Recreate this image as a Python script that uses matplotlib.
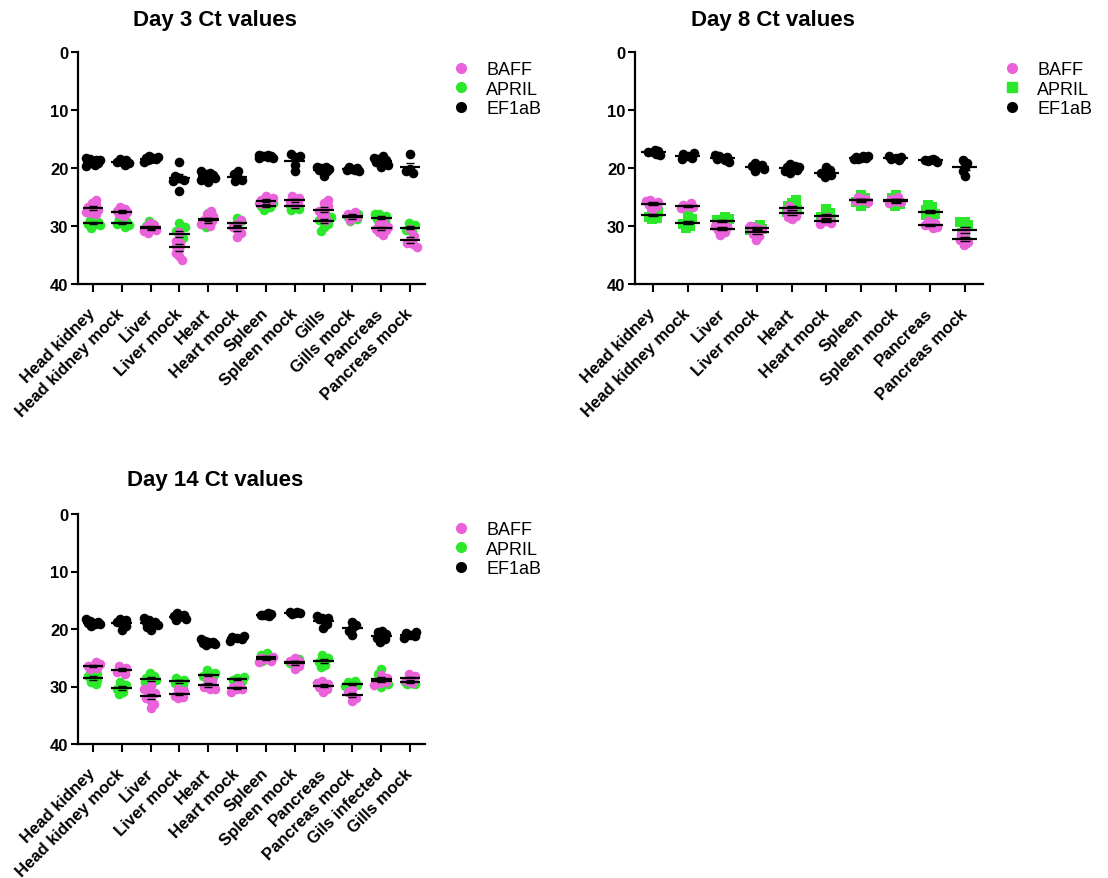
import matplotlib
matplotlib.use("Agg")
import matplotlib.pyplot as plt
import numpy as np
from matplotlib.lines import Line2D

plt.rcParams["font.family"] = ["Liberation Sans", "DejaVu Sans"]

BAFF_COLOR = "#EA62DA"
APRIL_COLOR = "#2BE82B"

# ---- Day 3 ----
day3_tissues = ["Head kidney", "Head kidney mock", "Liver", "Liver mock", "Heart",
                "Heart mock", "Spleen", "Spleen mock", "Gills", "Gills mock",
                "Pancreas", "Pancreas mock"]
day3_baff = [
    [25.5, 26.0, 26.4, 26.8, 27.0, 27.2, 27.5, 27.9, 27.8],
    [26.8, 27.1, 27.4, 27.6, 27.9, 28.2, 27.5],
    [29.5, 29.9, 30.2, 30.5, 30.8, 31.2, 30.7],
    [31.0, 32.5, 33.4, 34.0, 34.6, 35.2, 35.9, 33.0],
    [27.4, 27.9, 28.3, 28.7, 29.0, 29.3, 29.6, 30.0, 29.2],
    [29.0, 29.6, 30.1, 30.6, 31.2, 31.9],
    [24.8, 25.2, 25.5, 25.7, 25.9, 26.2, 26.0],
    [24.8, 25.2, 25.5, 25.8, 26.1, 26.2],
    [25.5, 26.0, 26.6, 27.0, 27.4, 27.8, 28.4, 28.9],
    [27.5, 27.9, 28.2, 28.5, 28.9],
    [29.2, 29.7, 30.1, 30.4, 30.7, 31.0, 31.6, 30.5],
    [30.6, 31.8, 32.4, 33.0, 33.6, 33.1],
]
day3_april = [
    [28.6, 29.0, 29.3, 29.5, 29.7, 29.9, 30.3, 29.6],
    [28.8, 29.2, 29.5, 29.8, 30.1, 29.6],
    [29.2, 29.6, 30.0, 30.3, 30.6, 31.0, 30.7],
    [29.5, 30.2, 30.8, 31.4, 32.0, 32.6, 34.0, 30.5],
    [27.8, 28.4, 28.9, 29.3, 29.7, 30.2],
    [28.6, 29.1, 29.6, 30.0, 30.5],
    [25.6, 26.1, 26.5, 26.8, 27.3, 26.6],
    [25.8, 26.3, 26.7, 27.0, 27.2],
    [28.0, 28.5, 28.9, 29.2, 29.6, 30.1, 30.8, 28.5],
    [28.0, 28.4, 28.8, 29.1, 28.3],
    [27.9, 28.2, 28.5, 28.8, 29.1, 29.4, 28.0],
    [29.5, 29.9, 30.3, 30.7, 31.1],
]
day3_ef1ab = [
    [18.2, 18.5, 18.7, 18.9, 19.0, 19.2, 19.4, 19.7, 18.6, 19.1],
    [18.4, 18.7, 19.0, 19.2, 19.5, 18.9],
    [17.9, 18.1, 18.3, 18.5, 18.7, 18.9, 18.4, 18.2],
    [19.0, 21.4, 21.7, 22.0, 22.2, 23.9],
    [20.6, 20.9, 21.1, 21.3, 21.5, 21.7, 22.0, 22.4, 21.2],
    [20.5, 21.0, 21.6, 22.0, 22.3],
    [17.7, 17.8, 17.9, 18.0, 18.1, 18.2, 18.3, 17.9, 18.0],
    [17.6, 17.9, 18.1, 19.4, 20.6],
    [19.8, 19.9, 20.0, 20.2, 20.4, 20.6, 21.3, 20.1],
    [19.8, 20.0, 20.2, 20.3, 20.4, 20.5],
    [17.9, 18.2, 18.5, 18.7, 18.9, 19.1, 19.4, 19.8, 18.6],
    [17.6, 20.6, 20.9, 20.2],
]

# ---- Day 8 ----
day8_tissues = ["Head kidney", "Head kidney mock", "Liver", "Liver mock", "Heart",
                "Heart mock", "Spleen", "Spleen mock", "Pancreas", "Pancreas mock"]
day8_baff = [
    [25.5, 25.7, 26.0, 26.3, 26.6, 27.0, 25.8],
    [26.0, 26.3, 26.6, 26.9, 26.8],
    [29.6, 30.0, 30.4, 30.7, 31.1, 31.5, 30.2],
    [30.0, 30.5, 30.9, 31.3, 31.7, 32.4, 30.2],
    [26.6, 27.1, 27.5, 27.9, 28.3, 28.8, 28.4],
    [28.4, 28.8, 29.2, 29.5, 29.6],
    [25.0, 25.3, 25.6, 25.9, 25.7],
    [25.0, 25.4, 25.7, 26.0, 25.9],
    [29.2, 29.5, 29.8, 30.1, 30.4, 29.8],
    [30.9, 31.6, 32.2, 32.8, 33.3, 32.4],
]
day8_april = [
    [27.2, 27.6, 28.0, 28.4, 28.8, 28.6],
    [28.3, 28.8, 29.3, 29.6, 30.0, 30.4],
    [28.5, 28.8, 29.1, 29.4, 29.8, 29.0],
    [29.8, 30.1, 30.4, 30.7, 30.5],
    [25.6, 26.1, 26.6, 27.1, 27.5, 28.0, 27.3],
    [27.1, 27.8, 28.4, 28.8, 29.2, 28.5],
    [24.6, 25.1, 25.5, 26.0, 26.5, 25.8],
    [24.7, 25.2, 25.7, 26.2, 26.6],
    [26.3, 26.8, 27.2, 27.6, 28.0, 28.5, 28.1],
    [29.3, 29.3, 29.9, 30.5, 31.2, 32.0, 32.9],
]
day8_ef1ab = [
    [16.9, 17.1, 17.3, 17.5, 17.8, 17.2],
    [17.6, 17.9, 18.2, 17.4, 18.4],
    [17.8, 18.0, 18.2, 18.4, 18.6, 18.9, 18.1],
    [19.2, 19.5, 19.8, 20.1, 20.5, 19.6],
    [19.3, 19.6, 19.9, 20.1, 20.3, 20.6, 20.9, 19.8],
    [19.9, 20.3, 20.8, 21.2, 21.6, 20.9],
    [17.9, 18.0, 18.2, 18.3, 18.5, 18.1, 18.4],
    [17.9, 18.1, 18.4, 18.7, 18.2],
    [18.5, 18.6, 18.7, 18.8, 18.9, 18.7],
    [18.6, 19.8, 20.6, 21.4, 19.1],
]

# ---- Day 14 ----
day14_tissues = ["Head kidney", "Head kidney mock", "Liver", "Liver mock", "Heart",
                 "Heart mock", "Spleen", "Spleen mock", "Pancreas", "Pancreas mock",
                 "Gils infected", "Gills mock"]
day14_baff = [
    [25.8, 26.1, 26.4, 26.7, 27.0, 26.4],
    [26.4, 26.8, 27.1, 27.4, 27.8],
    [29.8, 30.5, 31.1, 31.6, 32.0, 32.5, 33.1, 33.8, 30.9],
    [30.4, 30.8, 31.2, 31.6, 32.0, 31.8],
    [28.6, 29.1, 29.6, 30.0, 30.5, 30.4],
    [29.6, 30.1, 30.5, 30.9, 30.4],
    [24.8, 25.1, 25.3, 25.5, 25.8],
    [25.0, 25.5, 25.9, 26.4, 27.0, 25.6],
    [29.0, 29.4, 29.8, 30.1, 30.5, 31.0, 29.5],
    [30.4, 31.0, 31.5, 32.0, 32.6],
    [28.0, 28.5, 28.9, 29.3, 29.7, 29.2, 29.4],
    [27.8, 28.2, 28.6, 29.0, 29.4],
]
day14_april = [
    [27.4, 27.9, 28.4, 28.8, 29.2, 29.6, 28.2],
    [29.3, 29.7, 30.1, 30.5, 30.9, 31.3],
    [27.6, 28.1, 28.5, 28.9, 29.3, 29.7, 28.8],
    [28.5, 28.8, 29.1, 29.4, 29.7],
    [27.2, 27.6, 28.0, 28.3, 28.7, 28.2],
    [28.3, 28.6, 28.9, 29.0],
    [24.2, 24.6, 25.0, 25.3, 25.6],
    [25.2, 25.6, 25.9, 26.1],
    [24.6, 25.0, 25.4, 25.8, 26.2, 26.6],
    [29.0, 29.3, 29.6, 29.9, 29.7],
    [27.0, 27.8, 28.4, 29.0, 29.6, 30.0, 29.1],
    [28.8, 29.2, 29.6, 29.5, 29.4],
]
day14_ef1ab = [
    [18.3, 18.6, 18.8, 19.0, 19.2, 19.4, 18.9, 19.1],
    [18.2, 18.5, 18.9, 19.4, 20.1, 18.7],
    [18.0, 18.4, 18.7, 19.0, 19.3, 19.6, 20.2, 18.8],
    [17.2, 17.6, 17.9, 18.3, 18.5, 17.8],
    [21.8, 22.0, 22.2, 22.4, 22.6, 22.8, 22.3, 22.5],
    [21.2, 21.4, 21.6, 21.8, 22.0],
    [17.2, 17.4, 17.5, 17.6, 17.8, 17.5],
    [17.0, 17.1, 17.2, 17.3, 17.4],
    [17.8, 18.0, 18.3, 18.5, 19.2, 19.8, 18.1],
    [18.8, 19.3, 19.8, 20.4, 21.0],
    [20.3, 20.6, 20.9, 21.2, 21.5, 21.8, 22.2],
    [20.5, 20.7, 21.0, 21.3, 21.5],
]


def swarm_x(ax, xc, vals, dot_px=9.5, max_px=7.0):
    """Spread points sideways so they do not pile up (simple beeswarm)."""
    vals = np.asarray(vals, dtype=float)
    pts = ax.transData.transform(np.column_stack([np.full(len(vals), xc), vals]))
    y_px = pts[:, 1]
    px_per_cat = ax.transData.transform([(1, 0)])[0, 0] - ax.transData.transform([(0, 0)])[0, 0]
    steps = np.arange(0, max_px + 0.01, 0.5)
    cands = [0.0]
    for s in steps[1:]:
        cands += [s, -s]
    order = np.argsort(np.abs(vals - vals.mean()), kind="stable")
    offs = np.zeros(len(vals))
    placed = []
    min_d = dot_px * 0.5
    for k, idx in enumerate(order):
        y = y_px[idx]
        seq = cands if k % 2 == 0 else [-c for c in cands]
        best, best_d = 0.0, -1.0
        for c in seq:
            d = min((np.hypot(c - px, y - py) for px, py in placed), default=np.inf)
            if d >= min_d:
                best = c
                break
            if d > best_d:
                best_d, best = d, c
        placed.append((best, y))
        offs[idx] = best
    return xc + offs / px_per_cat


def draw_panel(ax, title, title_y, tissues, baff, april, ef1ab, april_marker, legend_xy):
    n = len(tissues)
    ax.set_xlim(-0.52, n - 0.48)
    ax.set_ylim(40, 0)
    for i in range(n):
        groups = [(ef1ab[i], "black", "o"),
                  (april[i], APRIL_COLOR, april_marker),
                  (baff[i], BAFF_COLOR, "o")]
        for vals, color, marker in groups:
            xs = swarm_x(ax, i, vals)
            ax.scatter(xs, vals, s=50 if marker == "s" else 48, c=color,
                       marker=marker, linewidths=0, zorder=2)
    # mean with SEM caps
    for i in range(n):
        for vals in (ef1ab[i], april[i], baff[i]):
            m = np.mean(vals)
            sem = np.std(vals, ddof=1) / np.sqrt(len(vals))
            ax.plot([i - 0.36, i + 0.36], [m, m], color="black", lw=1.6,
                    solid_capstyle="butt", zorder=3)
            for e in (m - sem, m + sem):
                ax.plot([i - 0.14, i + 0.14], [e, e], color="black", lw=1.0,
                        solid_capstyle="butt", zorder=3)

    ax.set_xticks(range(n))
    ax.set_xticklabels(tissues, rotation=45, ha="right", va="center",
                       rotation_mode="anchor", fontsize=12, fontweight="bold")
    ax.set_yticks([0, 10, 20, 30, 40])
    ax.set_yticklabels(["0", "10", "20", "30", "40"], fontsize=12, fontweight="bold")
    ax.tick_params(axis="both", length=5, width=1.5, direction="out", pad=2)
    ax.tick_params(axis="x", length=6, pad=13)
    for side in ("top", "right"):
        ax.spines[side].set_visible(False)
    for side in ("left", "bottom"):
        ax.spines[side].set_linewidth(1.6)
    ax.text(0.395, title_y, title, transform=ax.transAxes, ha="center", va="center",
            fontsize=16, fontweight="bold")

    handles = [
        Line2D([], [], ls="", marker="o", color=BAFF_COLOR, markersize=7),
        Line2D([], [], ls="", marker=april_marker, color=APRIL_COLOR, markersize=7),
        Line2D([], [], ls="", marker="o", color="black", markersize=7),
    ]
    ax.legend(handles, ["BAFF", "APRIL", "EF1aB"], loc="upper left",
              bbox_to_anchor=legend_xy, bbox_transform=fig.transFigure,
              frameon=False, fontsize=13, handlelength=1.0, handletextpad=0.9,
              labelspacing=0.14, borderpad=0, borderaxespad=0)


W, H = 1108, 879
fig = plt.figure(figsize=(W / 100, H / 100), dpi=100)

ax1 = fig.add_axes([78 / W, 1 - 285 / H, 347 / W, 232 / H])
ax2 = fig.add_axes([635 / W, 1 - 285 / H, 348 / W, 232 / H])
ax3 = fig.add_axes([78 / W, 1 - 745 / H, 347 / W, 230 / H])

draw_panel(ax1, "Day 3 Ct values", 1.142, day3_tissues, day3_baff, day3_april,
           day3_ef1ab, "o", (452 / W, 1 - 62 / H))
draw_panel(ax2, "Day 8 Ct values", 1.142, day8_tissues, day8_baff, day8_april,
           day8_ef1ab, "s", (1003 / W, 1 - 62 / H))
draw_panel(ax3, "Day 14 Ct values", 1.152, day14_tissues, day14_baff, day14_april,
           day14_ef1ab, "o", (452 / W, 1 - 522 / H))

fig.savefig("out.png", dpi=100)
